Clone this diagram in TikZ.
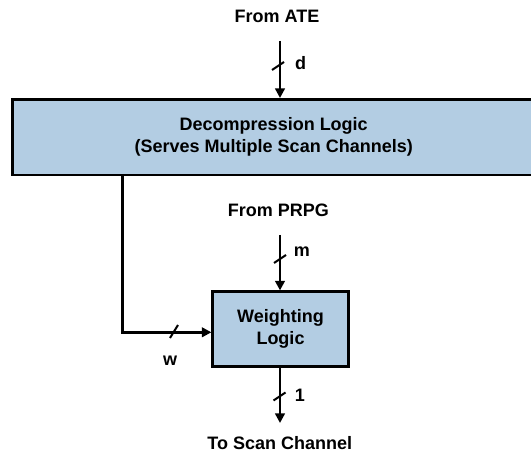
\documentclass[tikz,border=0pt]{standalone}
\usepackage{fontspec}
\setmainfont{Liberation Sans}
\usetikzlibrary{arrows.meta}
\definecolor{boxblue}{RGB}{179,205,227}
\begin{document}
\begin{tikzpicture}[x=1pt,y=-1pt,
  font=\bfseries\fontsize{18}{22}\selectfont,
  blk/.style={draw=black, fill=boxblue, line width=2.6pt, align=center, inner sep=0pt},
  arr/.style={line width=2.6pt, -{Triangle[length=9.5pt,width=9.5pt]}},
  wire/.style={line width=2.6pt},
  tick/.style={line width=2pt},
  lbl/.style={anchor=base, inner sep=0pt}]
\useasboundingbox (0,0) rectangle (531,454);
\clip (0,0) rectangle (531,454);
% boxes
\node[blk, minimum width=522.5pt, minimum height=75.7pt] (dec) at (273.75,137.15)
  {Decompression Logic\\(Serves Multiple Scan Channels)};
\node[blk, minimum width=135.6pt, minimum height=74.6pt] (wl) at (280.5,329)
  {Weighting\\Logic};
% texts
\node[lbl] (ate) at (277,22.7) {From ATE};
\node[lbl] (prpg) at (278.5,216.5) {From PRPG};
\node[lbl] (scan) at (279.7,449.5) {To Scan Channel};
\node[lbl] (d) at (300.5,70) {d};
\node[lbl] (m) at (301.8,256.7) {m};
\node[lbl] (one) at (300,401.5) {1};
\node[lbl] (w) at (170,366) {w};
% connectors
\coordinate (ateS) at (280,41);
\coordinate (prpgS) at (280,235);
\coordinate (scanE) at (280,423);
\coordinate (wcorner) at (122.3,332.3);
\draw[arr] (ateS) -- (ateS |- dec.north);
\draw[arr] (prpgS) -- (prpgS |- wl.north);
\draw[arr] (scanE |- wl.south) -- (scanE);
\draw[arr] (wcorner |- dec.south) -- (wcorner) -- (wcorner -| wl.west);
% bus ticks
\coordinate (t1) at (278,66);
\coordinate (t2) at (280,259);
\coordinate (t3) at (279.5,396.5);
\coordinate (t4) at (174,331.5);
\draw[tick] ([shift={(-6,4)}]t1) -- ([shift={(6,-4)}]t1);
\draw[tick] ([shift={(-6,4)}]t2) -- ([shift={(6,-4)}]t2);
\draw[tick] ([shift={(-6,4)}]t3) -- ([shift={(6,-4)}]t3);
\draw[tick] ([shift={(-4,6.5)}]t4) -- ([shift={(4,-6.5)}]t4);
\end{tikzpicture}
\end{document}
